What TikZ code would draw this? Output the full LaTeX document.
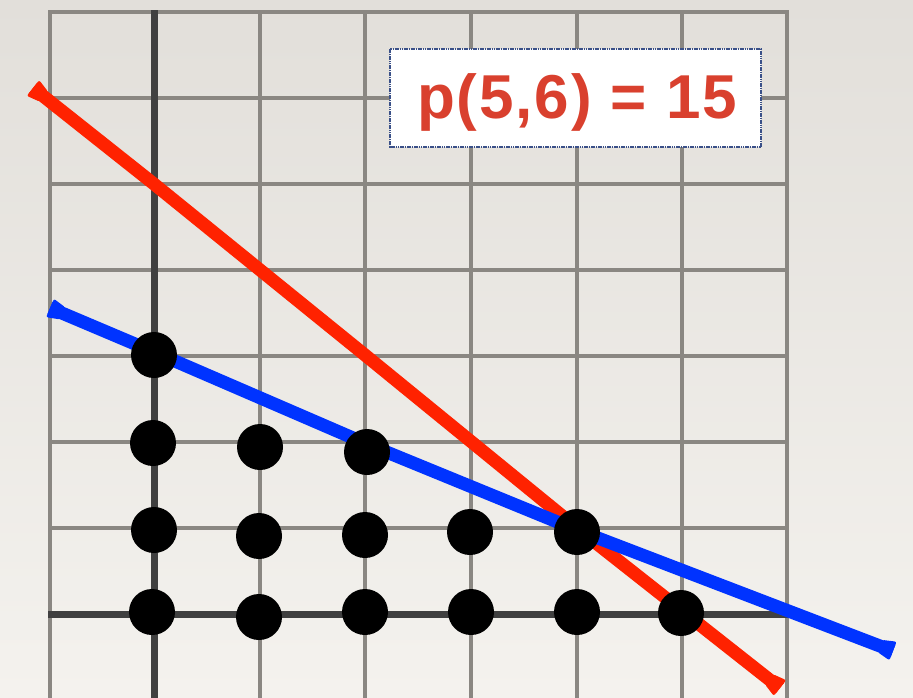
\documentclass[tikz,border=0pt]{standalone}
\usepackage{fontspec}
\setmainfont{Liberation Sans}
\usetikzlibrary{calc}
\definecolor{paperT}{HTML}{E2DFDA}
\definecolor{paperB}{HTML}{F4F2EE}
\definecolor{gridc}{HTML}{8A8782}
\definecolor{axisc}{HTML}{404040}
\definecolor{redl}{HTML}{FF2200}
\definecolor{bluel}{HTML}{0033FF}
\definecolor{txtred}{HTML}{D9402E}
\definecolor{boxline}{HTML}{3A5088}
\tikzset{
  gridline/.style={draw=gridc, line width=4pt},
  axisline/.style={draw=axisc, line width=7pt},
  latdot/.style={circle, fill=black, inner sep=0pt, minimum size=46pt},
  brush/.style={line width=13pt, line join=round},
  labelbox/.style={fill=white, draw=boxline, line width=1.2pt, dash pattern=on 1.6pt off 0.7pt},
}
\newcommand{\flare}[3]{% color, end, toward
  \fill[#1, rounded corners=2pt] ($(#2)!10pt!90:(#3)$) -- ($(#2)!10pt!-90:(#3)$) -- ($($(#2)!14pt!(#3)$)!6.5pt!-90:(#3)$) -- ($($(#2)!14pt!(#3)$)!6.5pt!90:(#3)$) -- cycle;}
\begin{document}
\begin{tikzpicture}[x=1pt,y=-1pt]
\useasboundingbox (0,0) rectangle (913,697);
\clip (0,0) rectangle (913,697);
\begin{scope}[y=1pt]
\shade[top color=paperT, bottom color=paperB] (0,0) rectangle (913,-697);
\end{scope}
% grid
\foreach \gx in {50,260,365,471,577,682,787}
  \draw[gridline] (\gx,12) -- (\gx,700);
\foreach \gy in {12,98,184,270,356,442,528}
  \draw[gridline] (48,\gy) -- (789,\gy);
% axes
\draw[axisline] (154,10) -- (154,700);
\draw[axisline] (48,614) -- (789,614);
% red line x+y=5
\coordinate (r0) at (33,88);
\coordinate (r1) at (154,184);
\coordinate (r2) at (365,355);
\coordinate (r3) at (577,528);
\coordinate (r4) at (780,688);
\draw[brush, redl] (r0) -- (r1) -- (r2) -- (r3) -- (r4);
\flare{redl}{r0}{r1}
\flare{redl}{r4}{r3}
% blue line x+2y=6
\coordinate (b0) at (50,308);
\coordinate (b1) at (154,352);
\coordinate (b2) at (367,444);
\coordinate (b3) at (577,530);
\coordinate (b4) at (893,651);
\draw[brush, bluel] (b0) -- (b1) -- (b2) -- (b3) -- (b4);
\flare{bluel}{b0}{b1}
\flare{bluel}{b4}{b3}
% lattice points
\node[latdot] (p00) at (152,612) {};
\node[latdot] (p10) at (259,617) {};
\node[latdot] (p20) at (365,612) {};
\node[latdot] (p30) at (471,612) {};
\node[latdot] (p40) at (577,612) {};
\node[latdot] (p50) at (681,613) {};
\node[latdot] (p01) at (154,530) {};
\node[latdot] (p11) at (259,536) {};
\node[latdot] (p21) at (365,535) {};
\node[latdot] (p31) at (470,532) {};
\node[latdot] (p41) at (577,532) {};
\node[latdot] (p02) at (153,443) {};
\node[latdot] (p12) at (260,447) {};
\node[latdot] (p22) at (367,452) {};
\node[latdot] (p03) at (154,355) {};
% label
\draw[labelbox] (390,49) rectangle (761,147);
\node[text=txtred, font=\fontsize{62}{68}\selectfont\bfseries\addfontfeatures{LetterSpace=3}, inner sep=0pt] (lbl) at (577,102) {p(5,6) = 15};
\end{tikzpicture}
\end{document}
